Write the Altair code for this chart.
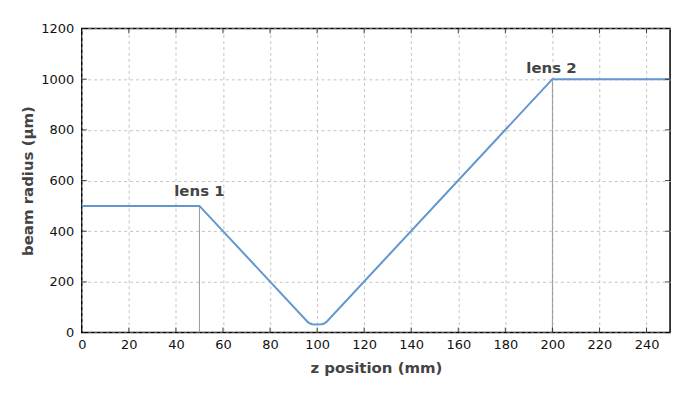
import altair as alt
import pandas as pd

z_pos = [0, 50, 96, 97, 98, 100, 102, 103, 104, 200, 250]
radius = [500, 500, 42, 36, 33, 32, 33, 36, 42, 1000, 1000]

lens_z = [50, 200]
lens_r = [500, 1000]
lens_label = ["lens 1", "lens 2"]
label_z = [50, 199.6]
label_r = [558, 1046]

x_ticks = list(range(0, 251, 20))
y_ticks = list(range(0, 1201, 200))

W, H = 590, 305
FONT = "DejaVu Sans"

beam = pd.DataFrame({"z": z_pos, "r": radius})
lenses = pd.DataFrame({"z": lens_z, "r": lens_r, "r0": [0, 0]})
labels = pd.DataFrame({"z": label_z, "r": label_r, "t": lens_label})
xt = pd.DataFrame({"v": x_ticks})
yt = pd.DataFrame({"v": y_ticks})

xscale = alt.Scale(domain=[0, 250], nice=False, zero=False)
yscale = alt.Scale(domain=[0, 1200], nice=False)

xaxis = alt.Axis(values=x_ticks, title="z position (mm)", tickSize=0, labelPadding=6,
                 titleX=W / 2, titleY=35, titleBaseline="middle",
                 grid=True, domain=False, format="d", labelFlush=False)
yaxis = alt.Axis(values=y_ticks, title="beam radius (µm)", tickSize=0, labelPadding=8,
                 titleX=-54, titleY=H / 2, titleBaseline="middle",
                 grid=True, domain=False, format="d", labelFlush=False)

line = alt.Chart(beam).mark_line(color="#6197cf", strokeWidth=2).encode(
    x=alt.X("z:Q", scale=xscale, axis=xaxis),
    y=alt.Y("r:Q", scale=yscale, axis=yaxis),
)

vlines = alt.Chart(lenses).mark_rule(color="#999999", strokeWidth=1).encode(
    x="z:Q", y="r0:Q", y2="r:Q"
)

texts = alt.Chart(labels).mark_text(
    font=FONT, fontSize=15, fontWeight="bold", color="#444444", baseline="middle", align="center"
).encode(x="z:Q", y="r:Q", text="t:N")

tick_b = alt.Chart(xt).mark_tick(orient="vertical", size=5, thickness=1, color="black").encode(
    x="v:Q", y=alt.value(H - 2.5))
tick_t = alt.Chart(xt).mark_tick(orient="vertical", size=5, thickness=1, color="black").encode(
    x="v:Q", y=alt.value(2.5))
tick_l = alt.Chart(yt).mark_tick(orient="horizontal", size=5, thickness=1, color="black").encode(
    y="v:Q", x=alt.value(2.5))
tick_r = alt.Chart(yt).mark_tick(orient="horizontal", size=5, thickness=1, color="black").encode(
    y="v:Q", x=alt.value(W - 2.5))

chart = alt.layer(vlines, line, tick_b, tick_t, tick_l, tick_r, texts).properties(
    width=W, height=H,
    autosize="none",
    padding={"left": 74, "top": 20, "right": 20, "bottom": 50},
).configure_view(
    stroke="black", strokeWidth=1.5
).configure_axis(
    labelFont=FONT, labelFontSize=13, labelColor="#111111",
    titleFont=FONT, titleFontSize=15, titleFontWeight="bold", titleColor="#444444",
    gridColor="#c4c4c4", gridDash=[3, 3], gridWidth=1,
)

chart.save("out.html", embed_options={"renderer": "svg", "actions": False})
